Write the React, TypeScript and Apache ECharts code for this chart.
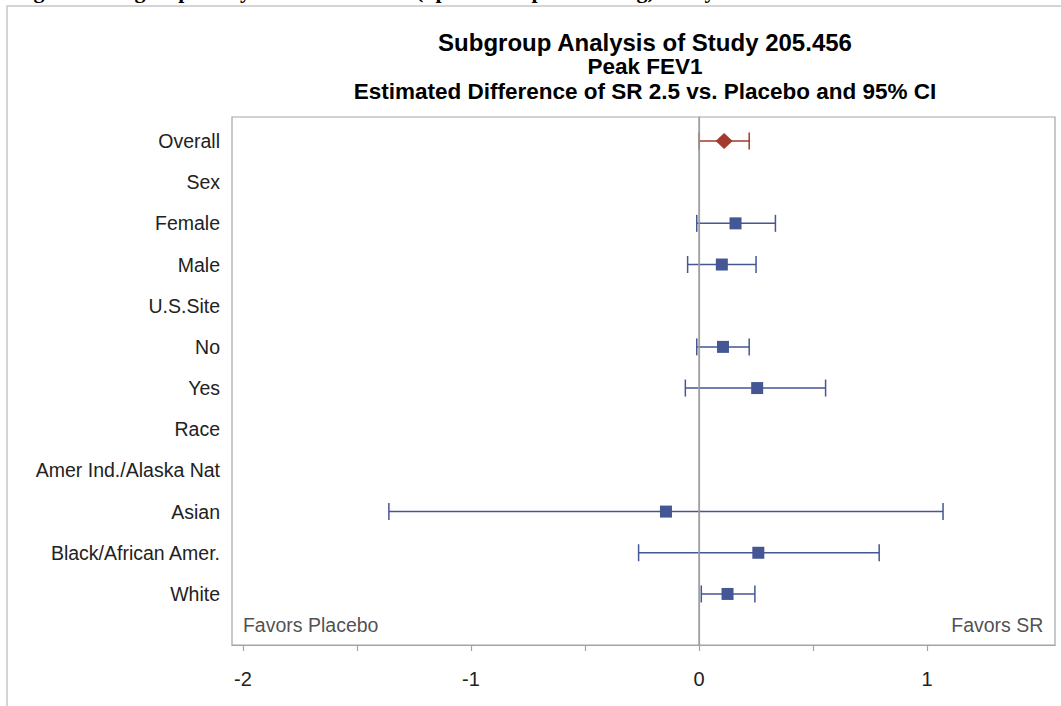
import React, { useEffect, useRef } from "react";
import * as echarts from "echarts";

// Row labels, top to bottom (headings carry no estimate)
const rowLabels = [
  "Overall",
  "Sex",
  "Female",
  "Male",
  "U.S.Site",
  "No",
  "Yes",
  "Race",
  "Amer Ind./Alaska Nat",
  "Asian",
  "Black/African Amer.",
  "White",
];

// Estimated difference (SR 2.5 vs. Placebo) and 95% CI bounds
const estimate = [0.11, null, 0.16, 0.1, null, 0.105, 0.255, null, null, -0.145, 0.26, 0.125];
const lower = [0.0, null, -0.01, -0.05, null, -0.01, -0.06, null, null, -1.36, -0.265, 0.01];
const upper = [0.22, null, 0.335, 0.25, null, 0.22, 0.555, null, null, 1.07, 0.79, 0.245];

const majorTicks = [-2, -1, 0, 1];
const minorTicks = [-2, -1.5, -1, -0.5, 0, 0.5, 1];

const headingLine = "Figure 5 Subgroup Analysis of Peak FEV1 (Spiriva Respimat 5 mcg) Study 205.456";
const titleLines = [
  "Subgroup Analysis of Study 205.456",
  "Peak FEV1",
  "Estimated Difference of SR 2.5 vs. Placebo and 95% CI",
];

const RED = "#A23A2E";
const BLUE = "#445694";
const SANS = "'Liberation Sans', Arial, sans-serif";

export default function App() {
  const ref = useRef<HTMLDivElement>(null);

  useEffect(() => {
    if (!ref.current) return;
    const chart = echarts.init(ref.current, null, { renderer: "svg" });

    const rows = rowLabels.map((_, i) => i + 1);
    const ciOverall: number[][] = [];
    const ciGroups: number[][] = [];
    const ptOverall: number[][] = [];
    const ptGroups: number[][] = [];
    rows.forEach((r, i) => {
      if (estimate[i] === null) return;
      const ci = [r, lower[i] as number, upper[i] as number];
      const pt = [estimate[i] as number, r];
      if (i === 0) {
        ciOverall.push(ci);
        ptOverall.push(pt);
      } else {
        ciGroups.push(ci);
        ptGroups.push(pt);
      }
    });

    const whisker = (color: string) => (params: any, api: any) => {
      const y = api.value(0);
      const a = api.coord([api.value(1), y]);
      const b = api.coord([api.value(2), y]);
      const cap = 8.5;
      const style = { stroke: color, lineWidth: 1.5 };
      return {
        type: "group",
        children: [
          { type: "line", shape: { x1: a[0], y1: a[1], x2: b[0], y2: b[1] }, style },
          { type: "line", shape: { x1: a[0], y1: a[1] - cap, x2: a[0], y2: a[1] + cap }, style },
          { type: "line", shape: { x1: b[0], y1: b[1] - cap, x2: b[0], y2: b[1] + cap }, style },
        ],
      };
    };

    const favorsRow = 12.75;

    chart.setOption({
      animation: false,
      backgroundColor: "#ffffff",
      grid: {
        left: 232,
        top: 117,
        width: 823,
        height: 528,
        show: true,
        borderColor: "#A4A4A4",
        borderWidth: 1.2,
        backgroundColor: "transparent",
      },
      xAxis: {
        type: "value",
        min: -2.048,
        max: 1.561,
        splitLine: { show: false },
        axisLine: { show: true, lineStyle: { color: "#A4A4A4", width: 1.2 } },
        axisTick: {
          show: true,
          customValues: minorTicks,
          length: 6,
          lineStyle: { color: "#A4A4A4", width: 1.2 },
        },
        axisLabel: {
          customValues: majorTicks,
          formatter: (v: number) => String(v),
          fontFamily: SANS,
          fontSize: 20,
          color: "#222",
          margin: 24,
        },
      },
      yAxis: {
        type: "value",
        inverse: true,
        min: 0.417,
        max: 13.24,
        splitLine: { show: false },
        axisLine: { show: true, lineStyle: { color: "#A4A4A4", width: 1.2 } },
        axisTick: { show: false },
        axisLabel: {
          customValues: rows,
          formatter: (v: number) => rowLabels[Math.round(v) - 1] ?? "",
          fontFamily: SANS,
          fontSize: 19.5,
          color: "#222",
          margin: 12,
        },
      },
      graphic: [
        {
          type: "rect",
          shape: { x: 7, y: 6, width: 1200, height: 900 },
          style: { fill: "none", stroke: "#C8C8C8", lineWidth: 1.5 },
          silent: true,
          z: 0,
        },
        {
          // page heading above the figure frame; only its lowest strokes fall on the page
          type: "text",
          style: {
            text: headingLine,
            x: 14,
            y: 1.5,
            textAlign: "left",
            textVerticalAlign: "bottom",
            font: "bold 22px 'Liberation Serif', 'Times New Roman', serif",
            fill: "#000",
          },
          silent: true,
        },
        ...titleLines.map((t, i) => ({
          type: "text",
          style: {
            text: t,
            x: 645,
            y: [42, 66, 91][i],
            textAlign: "center",
            textVerticalAlign: "middle",
            font: `bold ${i === 0 ? 24 : 22.5}px ${SANS}`,
            fill: "#000",
          },
          silent: true,
        })),
      ],
      series: [
        {
          type: "scatter",
          data: [],
          silent: true,
          markLine: {
            silent: true,
            symbol: ["none", "none"],
            label: { show: false },
            lineStyle: { color: "#A0A0A0", width: 1.5, type: "solid" },
            data: [{ xAxis: 0 }],
          },
        },
        {
          type: "custom",
          renderItem: whisker(BLUE),
          encode: { x: [1, 2], y: 0 },
          data: ciGroups,
          silent: true,
          z: 3,
        },
        {
          type: "custom",
          renderItem: whisker(RED),
          encode: { x: [1, 2], y: 0 },
          data: ciOverall,
          silent: true,
          z: 3,
        },
        {
          type: "scatter",
          symbol: "rect",
          symbolSize: 12,
          itemStyle: { color: BLUE, opacity: 1 },
          data: ptGroups,
          silent: true,
          z: 5,
        },
        {
          type: "scatter",
          symbol: "diamond",
          symbolSize: [17, 16],
          itemStyle: { color: RED, opacity: 1 },
          data: ptOverall,
          silent: true,
          z: 5,
        },
        {
          type: "scatter",
          symbolSize: 0,
          silent: true,
          data: [
            { value: [-2, favorsRow], label: { formatter: "Favors Placebo", align: "left" } },
            { value: [1.51, favorsRow], label: { formatter: "Favors SR", align: "right" } },
          ],
          label: {
            show: true,
            position: [0, 0],
            verticalAlign: "middle",
            fontFamily: SANS,
            fontSize: 19.5,
            color: "#222",
          },
        },
      ],
    });

    return () => chart.dispose();
  }, []);

  return (
    <div
      ref={ref}
      style={{ position: "fixed", left: 0, top: 0, width: 1061, height: 706, background: "#fff" }}
    />
  );
}
